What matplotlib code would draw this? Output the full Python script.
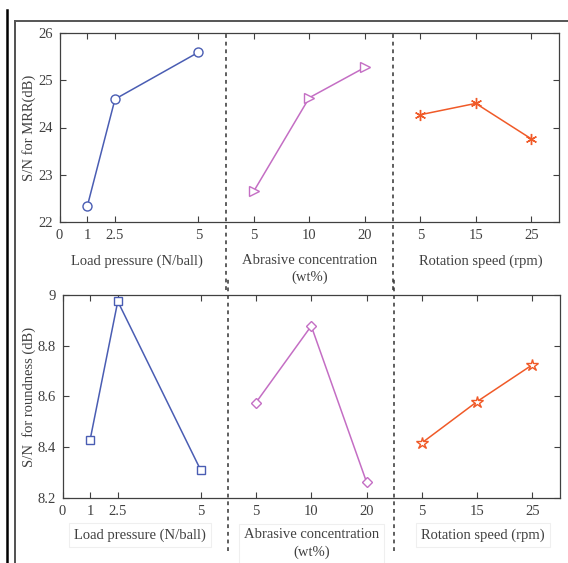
import matplotlib
matplotlib.use("Agg")
import matplotlib.pyplot as plt
from matplotlib.lines import Line2D
import matplotlib.transforms as mtransforms

plt.rcParams['font.family'] = ['Liberation Serif', 'DejaVu Serif']

# slot positions on the shared x axis (one axis holds all three factors)
pos_load = [1, 2, 5]
pos_abr = [7, 9, 11]
pos_rot = [13, 15, 17]
tick_pos = [0] + pos_load + pos_abr + pos_rot
tick_lab = ['0', '1', '2.5', '5', '5', '10', '20', '5', '15', '25']
dividers = [6, 12]

# S/N for MRR (dB)
mrr_load = [22.33, 24.60, 25.59]
mrr_abr = [22.65, 24.63, 25.27]
mrr_rot = [24.27, 24.51, 23.76]

# S/N for roundness (dB)
rnd_load = [8.43, 8.975, 8.31]
rnd_abr = [8.576, 8.878, 8.263]
rnd_rot = [8.417, 8.58, 8.725]

BLUE = '#4a5db3'
MAG = '#c46ec4'
ORG = '#f05a28'
GRAY = '#404040'

W, H = 568, 563
fig = plt.figure(figsize=(W / 100, H / 100), dpi=100)


def box(l, r, t, b):
    return [l / W, 1 - b / H, (r - l) / W, (b - t) / H]


ax1 = fig.add_axes(box(59.5, 559, 33, 222))
ax2 = fig.add_axes(box(62.5, 560, 295, 498))


def style(ax):
    ax.set_xlim(0, 18)
    ax.set_xticks(tick_pos)
    ax.set_xticklabels(tick_lab)
    ax.tick_params(direction='in', top=True, right=True, length=4,
                   width=0.8, colors=GRAY, labelsize=10.5, pad=5)
    for s in ax.spines.values():
        s.set_color(GRAY)
        s.set_linewidth(0.9)


# top panel
ax1.plot(pos_load, mrr_load, '-o', color=BLUE, lw=1.1, ms=6.5, mfc='white', mew=1.0)
ax1.plot(pos_abr, mrr_abr, '->', color=MAG, lw=1.1, ms=7, mfc='white', mew=1.0)
ax1.plot(pos_rot, mrr_rot, '-', color=ORG, lw=1.1, marker=(6, 2, 0), ms=8, mew=1.0)
ax1.set_ylim(22, 26)
ax1.set_yticks([22, 23, 24, 25, 26])
style(ax1)
ax1.set_ylabel('S/N for MRR(dB)', fontsize=10.5, color=GRAY)
ax1.yaxis.set_label_coords(-0.047, 0.5)

# bottom panel
ax2.plot(pos_load, rnd_load, '-s', color=BLUE, lw=1.1, ms=6, mfc='white', mew=1.0)
ax2.plot(pos_abr, rnd_abr, '-D', color=MAG, lw=1.1, ms=5, mfc='white', mew=1.0)
ax2.plot(pos_rot, rnd_rot, '-*', color=ORG, lw=1.1, ms=9, mfc='white', mew=1.0)
ax2.set_ylim(8.2, 9.0)
ax2.set_yticks([8.2, 8.4, 8.6, 8.8, 9.0])
ax2.set_yticklabels(['8.2', '8.4', '8.6', '8.8', '9'])
style(ax2)
ax2.set_ylabel('S/N  for roundness (dB)', fontsize=10.5, color=GRAY)
ax2.yaxis.set_label_coords(-0.053, 0.5)

# dashed dividers running through each panel and its label row
for ax, y0, y1 in [(ax1, -0.36, 1.0), (ax2, -0.26, 1.08)]:
    tr = mtransforms.blended_transform_factory(ax.transData, ax.transAxes)
    for d in dividers:
        ax.plot([d, d], [y0, y1], transform=tr, color='#333333', lw=1.1,
                ls=(0, (2.5, 2.5)), clip_on=False)

# factor labels
names = ['Load pressure (N/ball)', 'Abrasive concentration\n(wt%)', 'Rotation speed (rpm)']
name_x = [2.8, 9.0, 15.2]
for ax, yy, boxed in [(ax1, -0.17, False), (ax2, -0.15, True)]:
    for nx, nm in zip(name_x, names):
        kw = {}
        if boxed:
            kw['bbox'] = dict(boxstyle='square,pad=0.35', fc='none', ec='#efefef', lw=0.8)
        ax.text(nx, yy, nm, transform=mtransforms.blended_transform_factory(ax.transData, ax.transAxes),
                ha='center', va='top', fontsize=10.5, color=GRAY, linespacing=1.35, **kw)

# outer frame of the screenshot
fig.add_artist(Line2D([7 / W, 7 / W], [0, 1 - 10 / H], color='black', lw=1.8))
fig.add_artist(Line2D([15 / W, 15 / W], [0, 1 - 21 / H], color='#333333', lw=1.2))
fig.add_artist(Line2D([15 / W, 1], [1 - 21 / H, 1 - 21 / H], color='#555555', lw=1.4))

fig.savefig('out.png', dpi=100)
